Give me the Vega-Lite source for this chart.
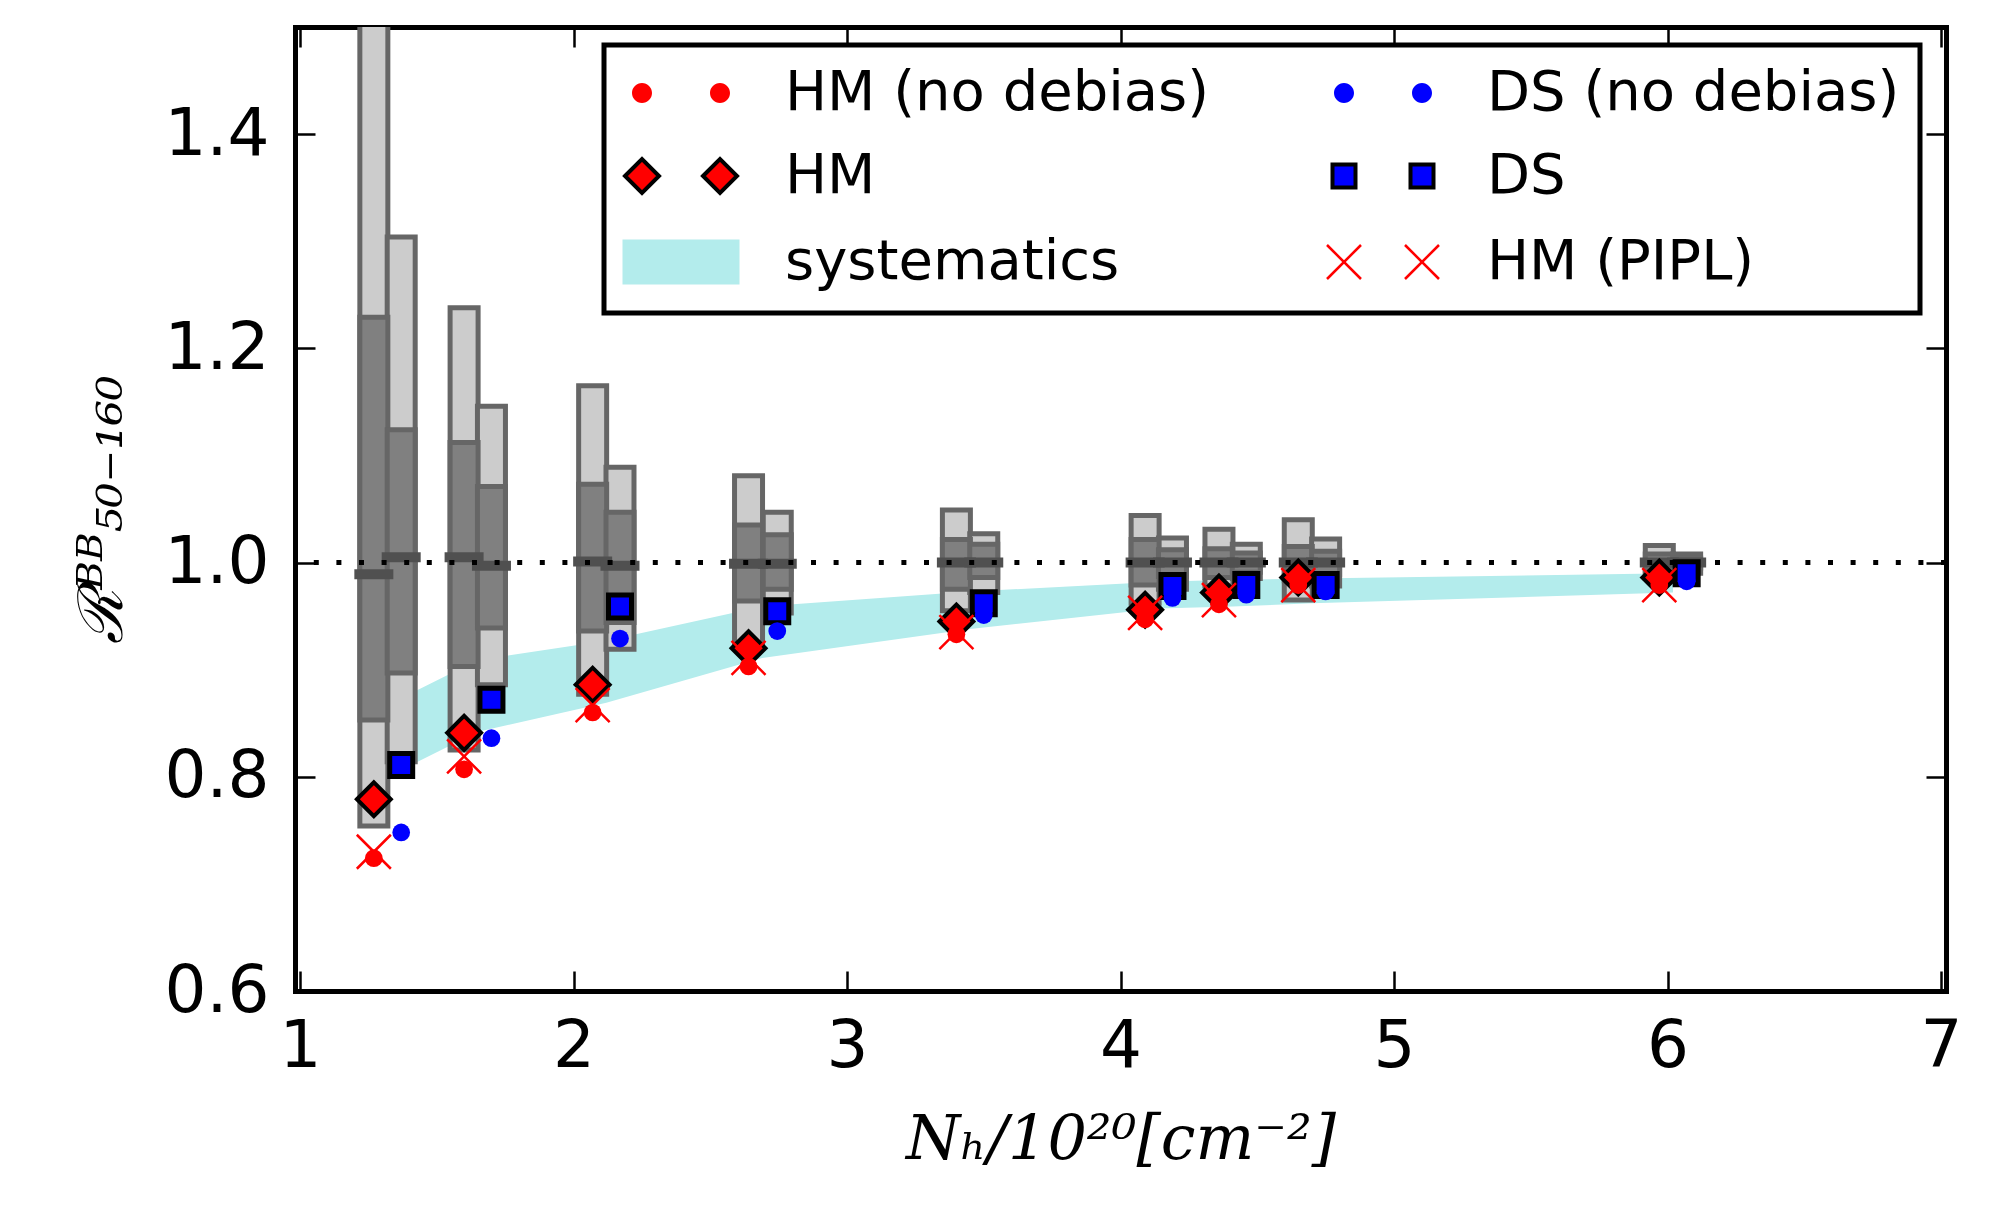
{
  "$schema": "https://vega.github.io/schema/vega-lite/v6.json",
  "width": 1651,
  "height": 964,
  "autosize": {"type": "none"},
  "padding": {"left": 295, "top": 27, "right": 51, "bottom": 229},
  "background": "white",
  "config": {
    "view": {"stroke": null},
    "axis": {
      "domainColor": "black", "domainWidth": 5, "domainCap": "square",
      "tickColor": "black", "tickWidth": 2.5, "tickSize": -20,
      "grid": false, "labelColor": "black", "labelFont": "DejaVu Sans", "labelFontSize": 66,
      "titleColor": "black", "titleFont": "DejaVu Serif", "titleFontStyle": "italic",
      "titleFontWeight": "normal", "titleFontSize": 62, "zindex": 1,
      "labelFlush": false, "labelOverlap": false
    },
    "legend": {"strokeWidth": 5, "symbolOpacity": 1, "symbolSize": 1600, "symbolStrokeWidth": 4}
  },
  "datasets": {
    "band": [
      {"NH": 1.32, "lo": 0.800, "hi": 0.867},
      {"NH": 1.65, "lo": 0.842, "hi": 0.909},
      {"NH": 2.12, "lo": 0.869, "hi": 0.927},
      {"NH": 2.69, "lo": 0.911, "hi": 0.959},
      {"NH": 3.45, "lo": 0.938, "hi": 0.973},
      {"NH": 4.14, "lo": 0.957, "hi": 0.982},
      {"NH": 4.41, "lo": 0.959, "hi": 0.984},
      {"NH": 4.70, "lo": 0.962, "hi": 0.985},
      {"NH": 6.02, "lo": 0.972, "hi": 0.990}
    ],
    "bars": [
      {"NH": 1.27, "lo2": 0.754, "lo1": 0.853, "med": 0.989, "hi1": 1.229, "hi2": 1.62},
      {"NH": 1.37, "lo2": 0.814, "lo1": 0.897, "med": 1.005, "hi1": 1.124, "hi2": 1.304},
      {"NH": 1.60, "lo2": 0.825, "lo1": 0.903, "med": 1.005, "hi1": 1.112, "hi2": 1.238},
      {"NH": 1.70, "lo2": 0.886, "lo1": 0.939, "med": 0.997, "hi1": 1.071, "hi2": 1.146},
      {"NH": 2.07, "lo2": 0.877, "lo1": 0.936, "med": 1.001, "hi1": 1.073, "hi2": 1.165},
      {"NH": 2.17, "lo2": 0.919, "lo1": 0.944, "med": 0.997, "hi1": 1.047, "hi2": 1.089},
      {"NH": 2.64, "lo2": 0.925, "lo1": 0.964, "med": 0.999, "hi1": 1.035, "hi2": 1.081},
      {"NH": 2.745, "lo2": 0.953, "lo1": 0.975, "med": 0.999, "hi1": 1.026, "hi2": 1.047},
      {"NH": 3.40, "lo2": 0.955, "lo1": 0.975, "med": 1.0, "hi1": 1.0215, "hi2": 1.049},
      {"NH": 3.50, "lo2": 0.972, "lo1": 0.986, "med": 1.0, "hi1": 1.017, "hi2": 1.027},
      {"NH": 4.09, "lo2": 0.962, "lo1": 0.979, "med": 1.0, "hi1": 1.0215, "hi2": 1.044},
      {"NH": 4.19, "lo2": 0.975, "lo1": 0.987, "med": 1.0, "hi1": 1.012, "hi2": 1.023},
      {"NH": 4.36, "lo2": 0.978, "lo1": 0.986, "med": 1.0, "hi1": 1.013, "hi2": 1.031},
      {"NH": 4.46, "lo2": 0.985, "lo1": 0.991, "med": 1.0, "hi1": 1.009, "hi2": 1.017},
      {"NH": 4.65, "lo2": 0.965, "lo1": 0.983, "med": 1.0, "hi1": 1.015, "hi2": 1.040},
      {"NH": 4.75, "lo2": 0.978, "lo1": 0.989, "med": 1.0, "hi1": 1.0105, "hi2": 1.022},
      {"NH": 5.97, "lo2": 0.985, "lo1": 0.992, "med": 1.0, "hi1": 1.008, "hi2": 1.016},
      {"NH": 6.07, "lo2": 0.990, "lo1": 0.995, "med": 1.0, "hi1": 1.004, "hi2": 1.008}
    ],
    "points": [
      {"series": "HM", "NH": 1.27, "R": 0.779},
      {"series": "HM", "NH": 1.60, "R": 0.841},
      {"series": "HM", "NH": 2.07, "R": 0.886},
      {"series": "HM", "NH": 2.64, "R": 0.920},
      {"series": "HM", "NH": 3.40, "R": 0.945},
      {"series": "HM", "NH": 4.09, "R": 0.956},
      {"series": "HM", "NH": 4.36, "R": 0.972},
      {"series": "HM", "NH": 4.65, "R": 0.986},
      {"series": "HM", "NH": 5.97, "R": 0.986},
      {"series": "HM (no debias)", "NH": 1.27, "R": 0.724},
      {"series": "HM (no debias)", "NH": 1.60, "R": 0.807},
      {"series": "HM (no debias)", "NH": 2.07, "R": 0.860},
      {"series": "HM (no debias)", "NH": 2.64, "R": 0.903},
      {"series": "HM (no debias)", "NH": 3.40, "R": 0.933},
      {"series": "HM (no debias)", "NH": 4.09, "R": 0.947},
      {"series": "HM (no debias)", "NH": 4.36, "R": 0.961},
      {"series": "HM (no debias)", "NH": 4.65, "R": 0.979},
      {"series": "HM (no debias)", "NH": 5.97, "R": 0.979},
      {"series": "HM (PIPL)", "NH": 1.27, "R": 0.730},
      {"series": "HM (PIPL)", "NH": 1.60, "R": 0.819},
      {"series": "HM (PIPL)", "NH": 2.07, "R": 0.867},
      {"series": "HM (PIPL)", "NH": 2.64, "R": 0.911},
      {"series": "HM (PIPL)", "NH": 3.40, "R": 0.935},
      {"series": "HM (PIPL)", "NH": 4.09, "R": 0.953},
      {"series": "HM (PIPL)", "NH": 4.36, "R": 0.965},
      {"series": "HM (PIPL)", "NH": 4.65, "R": 0.979},
      {"series": "HM (PIPL)", "NH": 5.97, "R": 0.979},
      {"series": "DS", "NH": 1.37, "R": 0.811},
      {"series": "DS", "NH": 1.70, "R": 0.872},
      {"series": "DS", "NH": 2.17, "R": 0.959},
      {"series": "DS", "NH": 2.745, "R": 0.9545},
      {"series": "DS", "NH": 3.50, "R": 0.962},
      {"series": "DS", "NH": 4.19, "R": 0.978},
      {"series": "DS", "NH": 4.46, "R": 0.979},
      {"series": "DS", "NH": 4.75, "R": 0.979},
      {"series": "DS", "NH": 6.07, "R": 0.990},
      {"series": "DS (no debias)", "NH": 1.37, "R": 0.748},
      {"series": "DS (no debias)", "NH": 1.70, "R": 0.836},
      {"series": "DS (no debias)", "NH": 2.17, "R": 0.929},
      {"series": "DS (no debias)", "NH": 2.745, "R": 0.936},
      {"series": "DS (no debias)", "NH": 3.50, "R": 0.951},
      {"series": "DS (no debias)", "NH": 4.19, "R": 0.967},
      {"series": "DS (no debias)", "NH": 4.46, "R": 0.970},
      {"series": "DS (no debias)", "NH": 4.75, "R": 0.973},
      {"series": "DS (no debias)", "NH": 6.07, "R": 0.9825}
    ],
    "ref": [{"R": 1.0}],
    "legendItems": [
      {"series": "HM (no debias)"},
      {"series": "HM"},
      {"series": "systematics"},
      {"series": "DS (no debias)"},
      {"series": "DS"},
      {"series": "HM (PIPL)"}
    ]
  },
  "resolve": {"axis": {"x": "independent", "y": "independent"}},
  "layer": [
    {
      "data": {"name": "band"},
      "mark": {"type": "area", "color": "#b3ecec", "opacity": 1},
      "encoding": {
        "x": {"field": "NH", "type": "quantitative",
          "scale": {"domain": [1, 7], "nice": false, "zero": false},
          "axis": {"orient": "bottom", "values": [1, 2, 3, 4, 5, 6, 7], "format": "d", "labelPadding": 43,
            "title": "Nₕ/10²⁰[cm⁻²]", "titlePadding": 30}},
        "y": {"field": "lo", "type": "quantitative",
          "scale": {"domain": [0.6, 1.5], "nice": false, "zero": false},
          "axis": {"orient": "left", "values": [0.6, 0.8, 1.0, 1.2, 1.4], "format": ".1f", "labelPadding": 46,
            "title": "ℛᴮᴮ₅₀₋₁₆₀", "titlePadding": 30}},
        "y2": {"field": "hi"}
      }
    },
    {
      "data": {"name": "bars"},
      "mark": {"type": "bar", "size": 28, "fill": "#cccccc", "stroke": "#666666", "strokeWidth": 5, "clip": true, "opacity": 1},
      "encoding": {
        "x": {"field": "NH", "type": "quantitative",
          "axis": {"orient": "top", "values": [1, 2, 3, 4, 5, 6, 7], "labels": false, "title": null}},
        "y": {"field": "lo2", "type": "quantitative",
          "axis": {"orient": "right", "values": [0.6, 0.8, 1.0, 1.2, 1.4], "labels": false, "title": null}},
        "y2": {"field": "hi2"}
      }
    },
    {
      "data": {"name": "bars"},
      "mark": {"type": "bar", "size": 28, "fill": "#808080", "stroke": "#666666", "strokeWidth": 5, "clip": true, "opacity": 1},
      "encoding": {
        "x": {"field": "NH", "type": "quantitative", "axis": null},
        "y": {"field": "lo1", "type": "quantitative", "axis": null},
        "y2": {"field": "hi1"}
      }
    },
    {
      "data": {"name": "bars"},
      "mark": {"type": "tick", "orient": "horizontal", "size": 39, "thickness": 10, "color": "#505050", "opacity": 1},
      "encoding": {
        "x": {"field": "NH", "type": "quantitative", "axis": null},
        "y": {"field": "med", "type": "quantitative", "axis": null}
      }
    },
    {
      "data": {"name": "ref"},
      "mark": {"type": "rule", "stroke": "black", "strokeWidth": 5, "strokeDash": [5, 17.6], "strokeCap": "butt"},
      "encoding": {
        "y": {"field": "R", "type": "quantitative", "axis": null}
      }
    },
    {
      "data": {"name": "points"},
      "transform": [{"filter": "datum.series === 'HM'"}],
      "mark": {"type": "point", "shape": "diamond", "filled": true, "size": 1150, "fill": "#ff0000", "stroke": "black", "strokeWidth": 4, "opacity": 1},
      "encoding": {
        "x": {"field": "NH", "type": "quantitative", "axis": null},
        "y": {"field": "R", "type": "quantitative", "axis": null}
      }
    },
    {
      "data": {"name": "points"},
      "transform": [{"filter": "datum.series === 'DS'"}],
      "mark": {"type": "point", "shape": "square", "filled": true, "size": 529, "fill": "#0000ff", "stroke": "black", "strokeWidth": 5, "opacity": 1},
      "encoding": {
        "x": {"field": "NH", "type": "quantitative", "axis": null},
        "y": {"field": "R", "type": "quantitative", "axis": null}
      }
    },
    {
      "data": {"name": "points"},
      "transform": [{"filter": "datum.series === 'HM (PIPL)'"}],
      "mark": {"type": "point", "shape": "M-1,-1L1,1M-1,1L1,-1", "filled": false, "size": 1156, "stroke": "#ff0000", "strokeWidth": 2.5, "opacity": 1},
      "encoding": {
        "x": {"field": "NH", "type": "quantitative", "axis": null},
        "y": {"field": "R", "type": "quantitative", "axis": null}
      }
    },
    {
      "data": {"name": "points"},
      "transform": [{"filter": "datum.series === 'HM (no debias)'"}],
      "mark": {"type": "point", "shape": "circle", "filled": true, "size": 314, "fill": "#ff0000", "opacity": 1},
      "encoding": {
        "x": {"field": "NH", "type": "quantitative", "axis": null},
        "y": {"field": "R", "type": "quantitative", "axis": null}
      }
    },
    {
      "data": {"name": "points"},
      "transform": [{"filter": "datum.series === 'DS (no debias)'"}],
      "mark": {"type": "point", "shape": "circle", "filled": true, "size": 314, "fill": "#0000ff", "opacity": 1},
      "encoding": {
        "x": {"field": "NH", "type": "quantitative", "axis": null},
        "y": {"field": "R", "type": "quantitative", "axis": null}
      }
    },
    {
      "data": {"name": "legendItems"},
      "mark": {"type": "point", "filled": true, "opacity": 0},
      "encoding": {
        "color": {"field": "series", "type": "nominal",
          "scale": {
            "domain": ["HM (no debias)", "HM", "systematics", "DS (no debias)", "DS", "HM (PIPL)"],
            "range": ["#ff0000", "#ff0000", "#b3ecec", "#0000ff", "#0000ff", "#ff0000"]
          },
          "legend": {
            "title": null, "orient": "none", "legendX": 309, "legendY": 18,
            "columns": 2, "columnPadding": 108, "rowPadding": 27, "padding": 20,
            "strokeColor": "black", "fillColor": "white",
            "labelFont": "DejaVu Sans", "labelFontSize": 56, "labelColor": "black", "labelLimit": 1000,
            "labelOffset": 76, "symbolOffset": 29, "symbolSize": 1600, "symbolStrokeWidth": 4, "symbolOpacity": 1
          }
        },
        "shape": {"field": "series", "type": "nominal",
          "scale": {
            "domain": ["HM (no debias)", "HM", "systematics", "DS (no debias)", "DS", "HM (PIPL)"],
            "range": [
              "M-1.45,0C-1.45,0.276,-1.674,0.5,-1.95,0.5C-2.226,0.5,-2.45,0.276,-2.45,0C-2.45,-0.276,-2.226,-0.5,-1.95,-0.5C-1.674,-0.5,-1.45,-0.276,-1.45,0ZM2.45,0C2.45,0.276,2.226,0.5,1.95,0.5C1.674,0.5,1.45,0.276,1.45,0C1.45,-0.276,1.674,-0.5,1.95,-0.5C2.226,-0.5,2.45,-0.276,2.45,0Z",
              "M-2.8,0L-1.95,-0.85L-1.1,0L-1.95,0.85ZM1.1,0L1.95,-0.85L2.8,0L1.95,0.85Z",
              "M-2.925,-1.125L2.925,-1.125L2.925,1.125L-2.925,1.125Z",
              "M-1.45,0C-1.45,0.276,-1.674,0.5,-1.95,0.5C-2.226,0.5,-2.45,0.276,-2.45,0C-2.45,-0.276,-2.226,-0.5,-1.95,-0.5C-1.674,-0.5,-1.45,-0.276,-1.45,0ZM2.45,0C2.45,0.276,2.226,0.5,1.95,0.5C1.674,0.5,1.45,0.276,1.45,0C1.45,-0.276,1.674,-0.5,1.95,-0.5C2.226,-0.5,2.45,-0.276,2.45,0Z",
              "M-2.525,-0.575L-1.375,-0.575L-1.375,0.575L-2.525,0.575ZM1.375,-0.575L2.525,-0.575L2.525,0.575L1.375,0.575Z",
              "M-2.755,-0.895L-1.055,0.805L-1.145,0.895L-2.845,-0.805ZM-2.845,0.805L-1.145,-0.895L-1.055,-0.805L-2.755,0.895ZM1.145,-0.895L2.845,0.805L2.755,0.895L1.055,-0.805ZM1.055,0.805L2.755,-0.895L2.845,-0.805L1.145,0.895Z"
            ]
          },
          "legend": {
            "title": null, "orient": "none", "legendX": 309, "legendY": 18,
            "columns": 2, "columnPadding": 108, "rowPadding": 27, "padding": 20,
            "strokeColor": "black", "fillColor": "white",
            "labelFont": "DejaVu Sans", "labelFontSize": 56, "labelColor": "black", "labelLimit": 1000,
            "labelOffset": 76, "symbolOffset": 29, "symbolSize": 1600, "symbolStrokeWidth": 4, "symbolOpacity": 1
          }
        },
        "stroke": {"field": "series", "type": "nominal",
          "scale": {
            "domain": ["HM (no debias)", "HM", "systematics", "DS (no debias)", "DS", "HM (PIPL)"],
            "range": ["transparent", "#000000", "transparent", "transparent", "#000000", "transparent"]
          },
          "legend": {
            "title": null, "orient": "none", "legendX": 309, "legendY": 18,
            "columns": 2, "columnPadding": 108, "rowPadding": 27, "padding": 20,
            "strokeColor": "black", "fillColor": "white",
            "labelFont": "DejaVu Sans", "labelFontSize": 56, "labelColor": "black", "labelLimit": 1000,
            "labelOffset": 76, "symbolOffset": 29, "symbolSize": 1600, "symbolStrokeWidth": 4, "symbolOpacity": 1
          }
        }
      }
    }
  ]
}
